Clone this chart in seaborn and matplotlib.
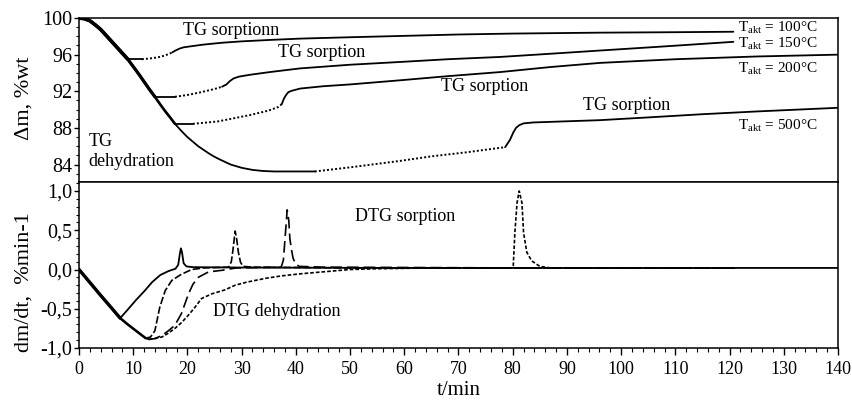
import matplotlib
matplotlib.use("Agg")
import matplotlib.pyplot as plt
import seaborn as sns
import numpy as np
from matplotlib.ticker import MultipleLocator, FuncFormatter

sns.set_theme(style="ticks", rc={"axes.edgecolor": "black", "xtick.color": "black",
                                 "ytick.color": "black", "text.color": "black",
                                 "axes.labelcolor": "black"})
plt.rcParams['font.family'] = ['Liberation Serif', 'DejaVu Serif']
plt.rcParams['mathtext.fontset'] = 'custom'
plt.rcParams['mathtext.rm'] = 'Liberation Serif'

# ---- TG: common dehydration curve (t in min, mass in %wt) ----
tg_main_t = np.array([0, 1, 2, 3, 4, 5, 6, 7, 8, 9, 10, 11, 12, 13, 14, 15, 16, 17, 17.7,
                      19, 20, 21, 22, 23, 24, 25, 26, 28, 30, 32, 34, 36, 43.5])
tg_main_m = np.array([100.0, 99.92, 99.7, 99.25, 98.75, 98.1, 97.45, 96.8, 96.15, 95.5, 94.7,
                      93.9, 93.05, 92.2, 91.4, 90.55, 89.75, 89.0, 88.45, 87.6, 87.0, 86.5,
                      86.0, 85.6, 85.2, 84.85, 84.55, 84.0, 83.65, 83.42, 83.3, 83.25, 83.25])

# T_akt = 100 C
tg100_flat_t = [9, 11.6]
tg100_flat_m = [95.5, 95.5]
tg100_dot_t = [11.6, 13, 14.5, 15.5, 16.5, 17.2]
tg100_dot_m = [95.5, 95.58, 95.7, 95.85, 96.05, 96.25]
tg100_sorp_t = [17.2, 17.8, 18.5, 19.3, 20.5, 23, 26.4, 30, 35, 40.8, 50, 60, 70, 80, 96, 110, 120.7]
tg100_sorp_m = [96.25, 96.45, 96.65, 96.8, 96.9, 97.1, 97.3, 97.45, 97.6, 97.75, 97.9, 98.05,
                98.2, 98.3, 98.4, 98.45, 98.5]

# T_akt = 150 C
tg150_flat_t = [14, 17.7]
tg150_flat_m = [91.4, 91.4]
tg150_dot_t = [17.7, 20, 22.5, 25, 26.4]
tg150_dot_m = [91.4, 91.6, 91.9, 92.25, 92.5]
tg150_sorp_t = [26.4, 27.2, 27.8, 28.5, 29.5, 31.5, 35.2, 40.8, 50, 59.2, 68, 77.7, 87, 96.1,
                108, 120.7]
tg150_sorp_m = [92.5, 92.75, 93.1, 93.4, 93.6, 93.8, 94.1, 94.5, 94.9, 95.2, 95.5, 95.75,
                96.1, 96.45, 96.9, 97.4]

# T_akt = 200 C
tg200_flat_t = [17.7, 21.0]
tg200_flat_m = [88.45, 88.45]
tg200_dot_t = [21.0, 25.5, 31.5, 35, 36.8, 37.4]
tg200_dot_m = [88.45, 88.7, 89.4, 89.9, 90.3, 90.6]
tg200_sorp_t = [37.4, 37.8, 38.2, 38.6, 39.2, 40.8, 45, 50, 59.2, 68, 77.7, 87, 96.1, 110, 125, 140]
tg200_sorp_m = [90.6, 91.2, 91.6, 91.9, 92.05, 92.3, 92.55, 92.75, 93.2, 93.65, 94.1, 94.65,
                95.1, 95.5, 95.8, 96.0]

# T_akt = 500 C
tg500_dot_t = [43.5, 50, 59.2, 65, 71.6, 76, 78.6]
tg500_dot_m = [83.25, 83.7, 84.4, 84.9, 85.35, 85.7, 85.9]
tg500_sorp_t = [78.6, 79.5, 80.1, 80.6, 81.2, 82, 83.8, 88.7, 96.1, 105, 115, 125, 140]
tg500_sorp_m = [85.9, 86.7, 87.5, 88.0, 88.3, 88.5, 88.6, 88.7, 88.85, 89.15, 89.5, 89.8, 90.2]

# ---- DTG (%/min) ----
dtg_main_t = np.array([0, 2, 4, 6, 7.6, 9, 10.5, 12.3, 12.9])
dtg_main_d = np.array([0.0, -0.165, -0.33, -0.49, -0.62, -0.70, -0.78, -0.875, -0.89])

dtg100_t = [7.6, 9, 10.5, 12, 13.5, 15, 16.5, 17.8, 18.3, 18.6, 18.8, 19.0, 19.3, 19.8, 21, 30,
            60, 100, 140]
dtg100_d = [-0.62, -0.51, -0.39, -0.28, -0.16, -0.07, -0.02, 0.01, 0.06, 0.20, 0.27, 0.22, 0.08,
            0.04, 0.03, 0.025, 0.02, 0.02, 0.02]

dtg150_t = [12.3, 13.2, 14.0, 14.9, 15.9, 17.1, 18.9, 20.8, 23, 27.6, 28.1, 28.4, 28.8, 29.1,
            29.4, 29.8, 30.3, 32, 50, 80, 121]
dtg150_d = [-0.875, -0.86, -0.78, -0.48, -0.27, -0.14, -0.06, 0.0, 0.02, 0.03, 0.10, 0.25, 0.49,
            0.38, 0.22, 0.09, 0.04, 0.03, 0.02, 0.02, 0.02]

dtg200_t = [12.9, 14, 15.3, 16.5, 17.7, 18.9, 20.2, 21.0, 22.0, 23.9, 26.4, 29, 37.3, 37.7,
            38.0, 38.4, 38.7, 38.9, 39.2, 39.5, 40.0, 40.6, 45, 80, 121]
dtg200_d = [-0.89, -0.88, -0.84, -0.78, -0.71, -0.56, -0.31, -0.19, -0.10, -0.03, -0.01, 0.02,
            0.03, 0.12, 0.39, 0.76, 0.62, 0.39, 0.25, 0.14, 0.07, 0.04, 0.03, 0.02, 0.02]

dtg500_t = [12.9, 14, 15.3, 16.5, 17.7, 19, 20.2, 21.4, 22.6, 24.5, 26.9, 28.8, 31, 34.6, 37.5,
            40.8, 45, 50, 55, 65, 79.8, 80.1, 80.4, 80.8, 81.2, 81.7, 82.0, 82.6, 83.5, 85.0,
            87, 100, 121]
dtg500_d = [-0.89, -0.88, -0.86, -0.81, -0.75, -0.67, -0.58, -0.48, -0.37, -0.31, -0.26, -0.2,
            -0.16, -0.11, -0.08, -0.055, -0.03, 0.0, 0.01, 0.02, 0.02, 0.05, 0.47, 0.85, 1.0,
            0.85, 0.47, 0.22, 0.11, 0.04, 0.02, 0.02, 0.02]

t_akt_labels = ["100", "150", "200", "500"]

BLACK = "black"
DOT = (0, (1, 1.1))


def line(ax, x, y, lw=1.2, ls="-"):
    sns.lineplot(x=x, y=y, ax=ax, color=BLACK, lw=lw, linestyle=ls,
                 estimator=None, sort=False, errorbar=None)


fig = plt.figure(figsize=(8.53, 4.01), dpi=100)
ax1 = fig.add_axes([79 / 853, 1 - 182 / 401, 759 / 853, 164 / 401])
ax2 = fig.add_axes([79 / 853, 1 - 348 / 401, 759 / 853, 166 / 401])

# ---- TG panel ----
line(ax1, tg_main_t, tg_main_m, lw=1.3)
line(ax1, tg_main_t[tg_main_t <= 17.7], tg_main_m[tg_main_t <= 17.7], lw=1.9)
line(ax1, tg_main_t[tg_main_t <= 14], tg_main_m[tg_main_t <= 14], lw=2.3)
line(ax1, tg_main_t[tg_main_t <= 9], tg_main_m[tg_main_t <= 9], lw=2.6)

for ft, fm, dt, dm, st, sm in [
        (tg100_flat_t, tg100_flat_m, tg100_dot_t, tg100_dot_m, tg100_sorp_t, tg100_sorp_m),
        (tg150_flat_t, tg150_flat_m, tg150_dot_t, tg150_dot_m, tg150_sorp_t, tg150_sorp_m),
        (tg200_flat_t, tg200_flat_m, tg200_dot_t, tg200_dot_m, tg200_sorp_t, tg200_sorp_m)]:
    line(ax1, ft, fm, lw=1.3)
    line(ax1, dt, dm, lw=1.4, ls=DOT)
    line(ax1, st, sm, lw=1.3)
line(ax1, tg500_dot_t, tg500_dot_m, lw=1.4, ls=DOT)
line(ax1, tg500_sorp_t, tg500_sorp_m, lw=1.3)

ax1.set_xlim(0, 140)
ax1.set_ylim(82.1, 100)
ax1.yaxis.set_major_locator(MultipleLocator(4))
ax1.yaxis.set_minor_locator(MultipleLocator(1))
ax1.yaxis.set_major_formatter(FuncFormatter(lambda v, p: f"{v:.0f}"))
ax1.tick_params(axis="x", which="both", bottom=False, labelbottom=False)
ax1.set_ylabel("Δm, %wt", fontsize=16)
ax1.yaxis.set_label_coords(-0.06, 0.51)

txt = 13
ax1.text(19.1, 98.6, "TG sorptionn", fontsize=txt, va="center")
ax1.text(36.7, 96.2, "TG sorption", fontsize=txt, va="center")
ax1.text(66.8, 92.5, "TG sorption", fontsize=txt, va="center")
ax1.text(93.0, 90.5, "TG sorption", fontsize=txt, va="center")
ax1.text(1.7, 85.45, "TG\ndehydration", fontsize=txt, va="center", linespacing=1.25)
for lab, yy in zip(t_akt_labels, [98.9, 97.2, 94.5, 88.3]):
    ax1.text(121.6, yy, r"T$_{\mathrm{akt}}$ = " + lab + "°C", fontsize=11, va="center")

# ---- DTG panel ----
line(ax2, dtg_main_t, dtg_main_d, lw=1.3)
line(ax2, dtg_main_t[dtg_main_t <= 12.3], dtg_main_d[dtg_main_t <= 12.3], lw=1.8)
line(ax2, dtg_main_t[dtg_main_t <= 7.6], dtg_main_d[dtg_main_t <= 7.6], lw=2.4)
line(ax2, dtg100_t, dtg100_d, lw=1.3)
line(ax2, dtg150_t, dtg150_d, lw=1.2, ls=(0, (4.5, 1.5)))
line(ax2, dtg200_t, dtg200_d, lw=1.2, ls=(0, (7, 3)))
line(ax2, dtg500_t, dtg500_d, lw=1.2, ls=(0, (2.2, 1.2)))

ax2.set_xlim(0, 140)
ax2.set_ylim(-1.0, 1.115)
ax2.yaxis.set_major_locator(MultipleLocator(0.5))
ax2.yaxis.set_minor_locator(MultipleLocator(0.1))
ax2.yaxis.set_major_formatter(
    FuncFormatter(lambda v, p: ("0,0" if abs(v) < 1e-9 else f"{v:.1f}".replace(".", ","))))
ax2.xaxis.set_major_locator(MultipleLocator(10))
ax2.xaxis.set_minor_locator(MultipleLocator(2))
ax2.set_ylabel("dm/dt,  %min-1", fontsize=16)
ax2.yaxis.set_label_coords(-0.06, 0.40)
ax2.set_xlabel("t/min", fontsize=15)
ax2.xaxis.set_label_coords(0.5, -0.2)

ax2.text(50.9, 0.67, "DTG sorption", fontsize=txt, va="center")
ax2.text(24.8, -0.54, "DTG dehydration", fontsize=txt, va="center")

for ax in (ax1, ax2):
    for s in ax.spines.values():
        s.set_linewidth(1.1)
    ax.tick_params(axis="y", which="major", length=3.5, width=1, pad=1.5, labelsize=14.5,
                   direction="out", left=True)
    ax.tick_params(axis="y", which="minor", length=2, width=0.8, direction="out", left=True)
    ax.grid(False)
ax2.tick_params(axis="x", which="major", length=5, width=1, pad=4, labelsize=13,
                direction="out", bottom=True)
ax2.tick_params(axis="x", which="minor", length=3, width=0.8, direction="out", bottom=True)

fig.savefig("out.png", dpi=100)
